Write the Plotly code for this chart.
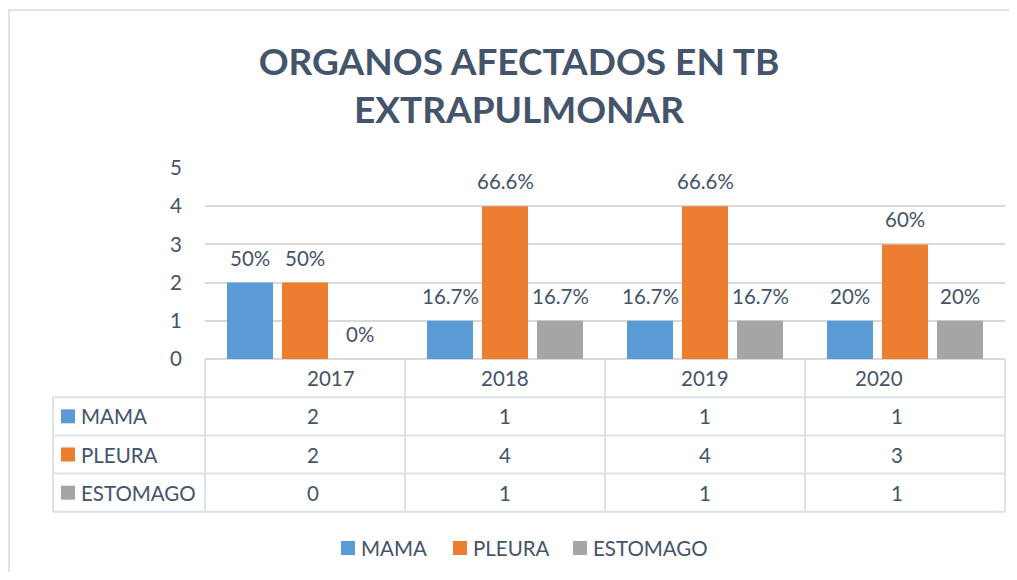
import plotly.graph_objects as go

years = ["2017", "2018", "2019", "2020"]
series_names = ["MAMA", "PLEURA", "ESTOMAGO"]
mama = [2, 1, 1, 1]
pleura = [2, 4, 4, 3]
estomago = [0, 1, 1, 1]
mama_pct = ["50%", "16.7%", "16.7%", "20%"]
pleura_pct = ["50%", "66.6%", "66.6%", "60%"]
estomago_pct = ["0%", "16.7%", "16.7%", "20%"]

colors = ["#5B9BD5", "#ED7D31", "#A5A5A5"]
values = [mama, pleura, estomago]
pcts = [mama_pct, pleura_pct, estomago_pct]

FONT = "Lato, 'Open Sans', sans-serif"
FS = 20.5
TXT = "#44546A"
GRID = "#D9D9D9"
OFF = 8  # page body margin
W, H = 1017 - 2 * OFF, 580 - 2 * OFF
L = 205 - OFF
T = 168 - OFF
PB = 359 - OFF
PR = 1005 - OFF
R = W - PR
B = H - PB
PW = PR - L
PH = PB - T


def px_x(p):
    """reference page pixel -> paper x"""
    return (p - OFF - L) / PW


def px_y(p):
    """reference page pixel -> paper y"""
    return (PB - (p - OFF)) / PH


fig = go.Figure()
for name, vals, col in zip(series_names, values, colors):
    fig.add_trace(go.Bar(name=name, x=list(range(len(years))), y=vals,
                         marker=dict(color=col, line=dict(width=0)), showlegend=False))

bargap = 0.175
slot = (1 - bargap) / 3
annotations = []
for i, (vals, pl) in enumerate(zip(values, pcts)):
    for j, (v, t) in enumerate(zip(vals, pl)):
        annotations.append(dict(x=j + (i - 1) * slot, y=v, xref="x", yref="y",
                                text=t, showarrow=False, yanchor="middle", yshift=25,
                                font=dict(family=FONT, size=FS, color=TXT)))

shapes = []
line_style = dict(color="#DDE1E8", width=2)
row_h = 1 / 5  # one y unit per table row
n = len(years)
for k in range(n + 1):
    shapes.append(dict(type="line", xref="paper", yref="paper", x0=k / n, x1=k / n,
                       y0=0, y1=-row_h * 4, line=line_style, layer="below"))
left_edge = px_x(53)
shapes.append(dict(type="line", xref="paper", yref="paper", x0=left_edge, x1=left_edge,
                   y0=-row_h, y1=-row_h * 4, line=line_style))
for r in range(1, 5):
    shapes.append(dict(type="line", xref="paper", yref="paper", x0=left_edge, x1=1,
                       y0=-row_h * r, y1=-row_h * r, line=line_style))

for k, yr in enumerate(years):
    annotations.append(dict(x=(k + 0.5) / n, y=-row_h * 0.5, xref="paper", yref="paper",
                            text=yr, showarrow=False, yanchor="middle",
                            font=dict(family=FONT, size=FS, color=TXT)))
sq_w = 14 / PW
sq_h = 14 / PH
for r, (name, vals, col) in enumerate(zip(series_names, values, colors)):
    yc = -row_h * (r + 1.5)
    shapes.append(dict(type="rect", xref="paper", yref="paper", x0=px_x(61), x1=px_x(61) + sq_w,
                       y0=yc - sq_h / 2, y1=yc + sq_h / 2, fillcolor=col, line=dict(width=0)))
    annotations.append(dict(x=px_x(79), y=yc, xref="paper", yref="paper", text=name,
                            xanchor="left", yanchor="middle", showarrow=False,
                            font=dict(family=FONT, size=FS, color=TXT)))
    for k, v in enumerate(vals):
        annotations.append(dict(x=(k + 0.5) / n, y=yc, xref="paper", yref="paper",
                                text=str(v), showarrow=False, yanchor="middle",
                                font=dict(family=FONT, size=FS, color=TXT)))

# bottom legend (drawn manually to match spacing)
legend_sq_x = [341, 453, 573]
ly = px_y(548)
for name, col, sx in zip(series_names, colors, legend_sq_x):
    shapes.append(dict(type="rect", xref="paper", yref="paper", x0=px_x(sx), x1=px_x(sx) + sq_w,
                       y0=ly - sq_h / 2, y1=ly + sq_h / 2, fillcolor=col, line=dict(width=0)))
    annotations.append(dict(x=px_x(sx + 18), y=ly, xref="paper", yref="paper", text=name,
                            xanchor="left", yanchor="middle", showarrow=False,
                            font=dict(family=FONT, size=FS, color=TXT)))

# chart-area border
shapes.append(dict(type="rect", xref="paper", yref="paper", x0=px_x(9), x1=px_x(1060),
                   y0=px_y(640), y1=px_y(10), line=dict(color=GRID, width=1.5), layer="below"))

fig.update_layout(
    width=W, height=H,
    margin=dict(l=L, r=R, t=T, b=B),
    paper_bgcolor="white", plot_bgcolor="white",
    barmode="group", bargap=bargap, bargroupgap=0.164,
    title=dict(text="<b>ORGANOS AFECTADOS EN TB<br>EXTRAPULMONAR</b>",
               x=(519 - OFF) / W, xanchor="center", y=1 - 67 / H, yanchor="middle",
               xref="container", yref="container",
               font=dict(family=FONT, size=37, color=TXT)),
    xaxis=dict(range=[-0.5, n - 0.5], showticklabels=False, showgrid=False,
               zeroline=False, showline=False, fixedrange=True),
    yaxis=dict(range=[0, 5], dtick=1, showgrid=True, gridcolor=GRID, gridwidth=1.5,
               zeroline=True, zerolinecolor=GRID, zerolinewidth=1.5,
               tickfont=dict(family=FONT, size=FS, color=TXT), ticklabelstandoff=22),
    annotations=annotations, shapes=shapes,
    showlegend=False,
)

fig.write_html("out.html")
